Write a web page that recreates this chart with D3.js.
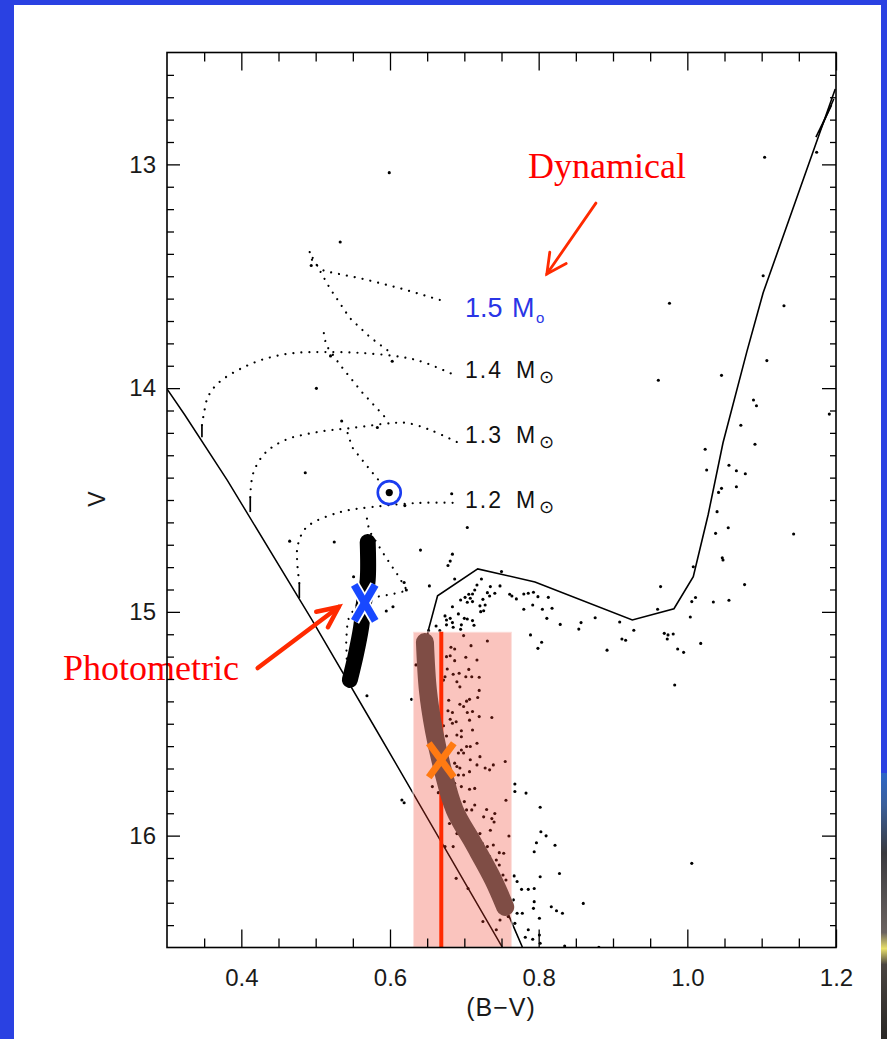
<!DOCTYPE html>
<html>
<head>
<meta charset="utf-8">
<script src="https://cdn.jsdelivr.net/npm/d3@7"></script>
<style>
  html, body { margin: 0; padding: 0; background: #2a41e2; }
  svg { display: block; }
</style>
</head>
<body>
<svg id="chart" width="887" height="1039"></svg>
<script>
// ---- Colour–magnitude diagram: (B−V) vs V ----

// Axis ticks
const xTicks = [0.4, 0.6, 0.8, 1.0, 1.2];
const yTicks = [13, 14, 15, 16];

// Cluster stars: colour (B−V) and magnitude V
const starBV = [
  0.599,0.533,0.494,0.520,0.603,0.501,0.535,0.583,0.486,0.620,0.683,0.704,0.465,0.525,0.641,0.684,0.681,0.551,0.678,0.687,
  0.653,0.604,0.595,0.569,0.629,0.616,0.619,1.104,1.174,1.102,1.130,0.976,1.107,1.046,0.961,1.089,1.093,1.191,1.072,1.091,
  1.024,1.026,1.056,1.066,1.078,1.066,1.046,1.042,1.040,1.038,1.055,1.143,1.047,1.048,1.008,1.077,0.964,0.960,1.006,1.011,
  1.035,1.056,1.004,0.909,0.928,0.912,0.917,0.969,0.974,0.973,0.981,0.987,0.995,1.018,0.892,0.983,1.006,0.750,0.619,0.622,
  0.723,0.717,0.735,0.748,0.714,0.711,0.706,0.731,0.734,0.741,0.761,0.764,0.780,0.786,0.793,0.799,0.813,0.770,0.701,0.708,
  0.711,0.695,0.684,0.704,0.725,0.728,0.721,0.726,0.722,0.780,0.792,0.805,0.818,0.674,0.681,0.676,0.692,0.700,0.704,0.711,
  0.684,0.676,0.685,0.696,0.713,0.695,0.662,0.667,0.652,0.811,0.829,0.857,0.854,0.876,0.789,0.804,0.799,0.699,0.709,0.731,
  0.682,0.687,0.676,0.681,0.702,0.717,0.687,0.635,0.677,0.706,0.693,0.685,0.702,0.710,0.720,0.674,0.672,0.690,0.694,0.720,
  0.707,0.703,0.679,0.694,0.699,0.718,0.678,0.684,0.711,0.704,0.720,0.737,0.707,0.681,0.684,0.689,0.672,0.696,0.711,0.676,
  0.696,0.690,0.703,0.708,0.717,0.696,0.692,0.699,0.708,0.721,0.717,0.687,0.690,0.694,0.728,0.734,0.739,0.755,0.707,0.692,
  0.699,0.687,0.696,0.707,0.714,0.657,0.665,0.685,0.768,0.768,0.783,0.700,0.710,0.703,0.714,0.730,0.741,0.756,0.726,0.737,
  0.740,0.735,0.680,0.690,0.721,0.760,0.685,0.674,0.724,0.731,0.739,0.729,0.747,0.753,0.734,0.743,0.747,0.689,0.705,0.752,
  0.756,0.767,0.725,0.743,0.748,0.759,0.766,0.771,0.777,0.786,0.794,0.768,0.771,0.778,0.794,0.793,0.801,0.817,0.824,0.832,
  0.860,0.828,0.802,0.794,0.797,0.803,0.810,0.822,0.802,0.786,0.782,0.792,0.801,0.802,0.835,0.881
];
const starV = [
  13.037,13.347,13.452,13.856,13.880,14.001,14.147,14.176,14.378,14.525,14.472,14.623,14.684,14.688,14.724,14.742,14.773,14.843,14.793,14.853,
  14.884,14.977,14.996,15.375,15.391,15.841,15.853,12.968,12.946,13.498,13.632,13.621,13.877,13.943,13.965,14.053,14.079,14.116,14.166,14.251,
  14.273,14.366,14.345,14.369,14.383,14.441,14.448,14.466,14.552,14.649,14.624,14.652,14.758,14.768,14.798,14.878,14.887,14.988,14.954,14.936,
  14.956,14.948,15.023,15.045,15.082,15.121,15.127,15.096,15.103,15.121,15.099,15.166,15.181,15.141,15.171,15.327,16.124,14.820,14.869,14.902,
  14.853,14.880,14.887,14.884,14.902,14.920,14.921,14.914,14.929,14.917,14.921,14.929,14.920,14.917,14.912,14.932,14.935,14.942,14.935,14.939,
  14.954,14.947,14.977,14.957,14.944,14.969,14.973,14.995,14.999,14.988,14.969,14.988,14.984,15.018,15.029,15.036,15.009,15.029,15.032,15.039,
  15.048,15.058,15.069,15.058,15.060,15.078,15.063,15.084,15.084,15.029,15.056,15.048,15.077,15.026,15.103,15.136,15.163,15.106,15.151,15.130,
  15.158,15.166,15.200,15.196,15.203,15.215,15.218,15.237,15.255,15.257,15.274,15.279,15.290,15.290,15.292,15.290,15.305,15.312,15.335,15.351,
  15.391,15.399,15.395,15.413,15.423,15.383,15.442,15.450,15.445,15.450,15.468,15.472,15.484,15.480,15.498,15.491,15.509,15.531,15.528,15.555,
  15.558,15.550,15.602,15.602,15.587,15.617,15.631,15.631,15.661,15.647,15.684,15.676,15.691,15.698,15.698,15.706,15.684,15.669,15.714,15.729,
  15.729,15.766,15.781,15.793,15.789,15.781,15.808,15.818,15.769,15.803,15.810,15.848,15.885,15.885,15.863,15.883,15.901,15.842,15.916,15.924,
  15.939,15.976,15.946,15.991,15.991,16.002,16.049,16.049,16.034,16.049,16.042,16.076,16.076,16.079,16.094,16.109,16.131,16.191,16.236,16.176,
  16.198,16.180,16.384,16.421,16.377,16.362,16.287,16.205,16.240,16.240,16.236,16.392,16.347,16.347,16.295,16.325,16.369,16.318,16.336,16.347,
  16.303,16.169,16.184,16.072,16.032,15.983,16.001,16.043,15.873,16.421,16.454,16.463,16.444,16.481,16.493,16.499
];

// The circled star
const circledStar = [0.599, 14.467];

// Zero-age main sequence
const zams = [[0.300,14.004],[0.324,14.120],[0.381,14.411],[0.495,15.036],[0.580,15.519],[0.613,15.707],[0.751,16.498]];

// Evolutionary tracks (first segment: ZAMS stub)
const track12 = [[0.478,14.938],[0.478,14.871],[0.475,14.768],[0.476,14.701],[0.488,14.621],[0.533,14.554],[0.577,14.531],[0.640,14.513],[0.691,14.513]];
const track13 = [[0.412,14.554],[0.412,14.487],[0.416,14.380],[0.432,14.290],[0.459,14.232],[0.503,14.196],[0.549,14.178],[0.603,14.156],[0.623,14.156],[0.654,14.187],[0.690,14.241]];
const track14 = [[0.347,14.219],[0.347,14.165],[0.350,14.107],[0.355,14.040],[0.369,13.977],[0.401,13.910],[0.436,13.865],[0.472,13.843],[0.513,13.839],[0.562,13.843],[0.616,13.861],[0.644,13.883],[0.690,13.946]];
const track15 = [[0.492,13.392],[0.496,13.437],[0.512,13.477],[0.559,13.508],[0.613,13.553],[0.667,13.606]];

// Hook segments of the tracks
const hook15 = [[0.496,13.418],[0.519,13.553],[0.546,13.687],[0.573,13.772],[0.600,13.839]];
const hook14 = [[0.511,13.754],[0.514,13.808],[0.533,13.897],[0.562,14.017],[0.597,14.143]];
const hook13 = [[0.543,14.201],[0.549,14.264],[0.568,14.344],[0.589,14.429]];
const hook12 = [[0.569,14.583],[0.572,14.637],[0.593,14.749],[0.611,14.838],[0.623,14.905],[0.600,14.923],[0.576,14.936],[0.554,14.972],[0.543,15.039],[0.541,15.128],[0.542,15.226]];

// Cluster isochrone
const isochrone = [[0.778,16.498],[0.764,16.390],[0.755,16.319],[0.739,16.198],[0.712,16.033],[0.687,15.885],[0.670,15.693],[0.654,15.393],
  [0.648,15.214],[0.651,15.089],[0.664,14.928],[0.718,14.808],[0.795,14.866],[0.926,15.036],[0.982,14.986],[1.008,14.843],[1.028,14.566],
  [1.048,14.244],[1.080,13.838],[1.102,13.574],[1.199,12.663]];
const tipA = [[1.173,12.878],[1.194,12.735]];
const tipB = [[1.177,12.860],[1.197,12.708]];

// Main-sequence fiducial (dynamical) and photometric band
const fiducial = [[0.647,15.135],[0.651,15.350],[0.659,15.528],[0.670,15.693],[0.687,15.885],[0.712,16.033],[0.739,16.198],[0.755,16.319]];
const photBand = [[0.570,14.688],[0.570,14.857],[0.565,14.960],[0.561,15.072],[0.554,15.192],[0.546,15.304]];

// Selection box and reference colour
const boxBV = [0.631, 0.764];
const boxV = [15.089, 16.5];
const refBV = 0.669;

// Solutions
const dynX = [0.669, 15.663];
const photX = [0.566, 14.960];

// Track labels
const massLabels = ["1.5", "1.4", "1.3", "1.2"];
const massLabelV = [13.683, 13.955, 14.246, 14.536];
const massLabelBV = 0.701;

// Annotation arrows [tail, tip]
const dynArrow = [[0.877,13.173],[0.811,13.490]];
const photArrow = [[0.422,15.251],[0.531,14.978]];

// ---- Drawing ----
const svg = d3.select("#chart");
const x = d3.scaleLinear().domain([0.3, 1.2]).range([167, 836]);
const y = d3.scaleLinear().domain([12.5, 16.5]).range([52.5, 947.5]);

// slide panel
svg.append("rect").attr("x", 0).attr("y", 0).attr("width", 887).attr("height", 1039).attr("fill", "#2a41e2");
svg.append("rect").attr("x", 14).attr("y", 5).attr("width", 867).attr("height", 1034).attr("fill", "#ffffff");
const defs = svg.append("defs");
const grad = defs.append("linearGradient").attr("id", "strip").attr("x1", 0).attr("y1", 0).attr("x2", 0).attr("y2", 1);
[["0", "#2d66c8"], ["0.12", "#3a5f9a"], ["0.3", "#3a3a3e"], ["0.6", "#6b6360"], ["0.66", "#e9e06a"], ["0.72", "#4a4440"], ["1", "#2a2826"]]
  .forEach(([o, c]) => grad.append("stop").attr("offset", o).attr("stop-color", c));
svg.append("rect").attr("x", 881).attr("y", 773).attr("width", 6).attr("height", 266).attr("fill", "url(#strip)");

defs.append("clipPath").attr("id", "plot")
  .append("rect").attr("x", 167).attr("y", 52.5).attr("width", 669).attr("height", 895);

const plot = svg.append("g").attr("clip-path", "url(#plot)");
const line = d3.line().x(d => x(d[0])).y(d => y(d[1]));
const smooth = d3.line().x(d => x(d[0])).y(d => y(d[1])).curve(d3.curveCatmullRom.alpha(0.5));

// stars
plot.append("g").selectAll("circle").data(starBV).join("circle")
  .attr("cx", d => x(d)).attr("cy", (d, i) => y(starV[i])).attr("r", 1.55).attr("fill", "#000");

// tracks: solid stub, then dotted
const dotted = p => p.attr("stroke", "#000").attr("stroke-width", 2.2)
  .attr("stroke-linecap", "round").attr("stroke-dasharray", "0.01 8").attr("fill", "none");
function drawTrack(pts) {
  plot.append("path").attr("d", line(pts.slice(0, 2))).attr("stroke", "#000").attr("stroke-width", 1.7).attr("fill", "none");
  plot.append("path").attr("d", smooth(pts.slice(1))).call(dotted);
}
[track12, track13, track14].forEach(drawTrack);
[track15, hook15, hook14, hook13, hook12].forEach(t => plot.append("path").attr("d", line(t)).call(dotted));

// ZAMS and isochrone
plot.append("path").attr("d", line(zams)).attr("stroke", "#000").attr("stroke-width", 1.5).attr("fill", "none");
[isochrone, tipA, tipB].forEach(p => plot.append("path").attr("d", line(p)).attr("stroke", "#000").attr("stroke-width", 1.6).attr("fill", "none"));

// selection box (translucent, over stars)
plot.append("rect")
  .attr("x", x(boxBV[0])).attr("y", y(boxV[0]))
  .attr("width", x(boxBV[1]) - x(boxBV[0])).attr("height", y(boxV[1]) - y(boxV[0]))
  .attr("fill", "#f03c28").attr("fill-opacity", 0.3)
  .attr("stroke", "#ffffff").attr("stroke-opacity", 0.45).attr("stroke-width", 2);

// reference colour line
plot.append("line").attr("x1", x(refBV)).attr("x2", x(refBV)).attr("y1", y(boxV[0])).attr("y2", y(boxV[1]))
  .attr("stroke", "#ff2a00").attr("stroke-width", 4);

// fiducial band
plot.append("path").attr("d", smooth(fiducial)).attr("stroke", "#7f4d45").attr("stroke-width", 18)
  .attr("stroke-linecap", "round").attr("stroke-linejoin", "round").attr("fill", "none");

// cross marker
function cross(c, hw, hh, width, color, outline) {
  const cx = x(c[0]), cy = y(c[1]);
  const g = plot.append("g");
  const segs = [[cx - hw, cy - hh, cx + hw, cy + hh], [cx + hw, cy - hh, cx - hw, cy + hh]];
  if (outline) segs.forEach(s => g.append("line").attr("x1", s[0]).attr("y1", s[1]).attr("x2", s[2]).attr("y2", s[3])
    .attr("stroke", "#ffffff").attr("stroke-width", width + 3.5));
  segs.forEach(s => g.append("line").attr("x1", s[0]).attr("y1", s[1]).attr("x2", s[2]).attr("y2", s[3])
    .attr("stroke", color).attr("stroke-width", width));
}
cross(dynX, 12.5, 17, 7, "#ff7a12", false);

// photometric band
plot.append("path").attr("d", smooth(photBand)).attr("stroke", "#000").attr("stroke-width", 16)
  .attr("stroke-linecap", "round").attr("stroke-linejoin", "round").attr("fill", "none");
cross(photX, 10.5, 18, 7.5, "#1848ff", true);

// circled star
plot.append("circle").attr("cx", x(circledStar[0])).attr("cy", y(circledStar[1])).attr("r", 3.6).attr("fill", "#000");
plot.append("circle").attr("cx", x(circledStar[0])).attr("cy", y(circledStar[1])).attr("r", 11.5)
  .attr("fill", "none").attr("stroke", "#1a3cf0").attr("stroke-width", 2.6);

// track labels
massLabels.forEach((m, i) => {
  const lx = x(massLabelBV), ly = y(massLabelV[i]);
  const t = svg.append("text").attr("y", ly).attr("font-family", "Liberation Sans, Arial, sans-serif");
  if (i === 0) {
    t.attr("fill", "#2a35e6").attr("font-size", 27);
    t.append("tspan").attr("x", lx).text(m);
    t.append("tspan").attr("x", lx + 47).text("M");
    t.append("tspan").attr("x", lx + 71).attr("dy", 6).attr("font-size", 15).text("o");
  } else {
    t.attr("fill", "#111").attr("font-size", 23);
    t.append("tspan").attr("x", lx).attr("letter-spacing", 2).text(m);
    t.append("tspan").attr("x", lx + 51).text("M");
    t.append("tspan").attr("x", lx + 74).attr("dy", 5).attr("font-size", 18)
      .attr("font-family", "DejaVu Sans, sans-serif").text("\u2299");
  }
});

// annotation texts and arrows
svg.append("text").attr("x", 528).attr("y", 178).attr("font-family", "Liberation Serif, Times New Roman, serif")
  .attr("font-size", 36).attr("fill", "#ff0000").text("Dynamical");
svg.append("text").attr("x", 63).attr("y", 680).attr("font-family", "Liberation Serif, Times New Roman, serif")
  .attr("font-size", 36).attr("fill", "#ff0000").text("Photometric");

function arrow(a, width, head, half) {
  const x0 = x(a[0][0]), y0 = y(a[0][1]), x1 = x(a[1][0]), y1 = y(a[1][1]);
  const ang = Math.atan2(y0 - y1, x0 - x1);
  const g = svg.append("g").attr("stroke", "#ff2a00").attr("stroke-width", width).attr("stroke-linecap", "round").attr("fill", "none");
  const h = half * Math.PI / 180;
  g.append("path").attr("d", `M${x0},${y0}L${x1},${y1}`);
  g.append("path").attr("d",
    `M${x1 + head * Math.cos(ang - h)},${y1 + head * Math.sin(ang - h)}L${x1},${y1}L${x1 + head * Math.cos(ang + h)},${y1 + head * Math.sin(ang + h)}`)
    .attr("stroke-linejoin", "miter");
}
arrow(dynArrow, 2.8, 22, 27);
arrow(photArrow, 4.5, 23, 25);

// axes
const minorX = d3.range(0.35, 1.2, 0.05).filter(v => !xTicks.some(t => Math.abs(t - v) < 1e-6));
const minorY = d3.range(12.6, 16.5, 0.1).filter(v => !yTicks.some(t => Math.abs(t - v) < 1e-6));
const fx = d3.format(".1f"), fy = d3.format("d");

function styleAxis(g) {
  g.select(".domain").remove();
  g.selectAll(".tick line").attr("stroke", "#000").attr("stroke-width", 1.3);
  g.selectAll("text").attr("font-family", "Liberation Sans, Arial, sans-serif").attr("font-size", 24).attr("fill", "#1a1a1a");
}
svg.append("g").attr("transform", "translate(0,947.5)")
  .call(d3.axisBottom(x).tickValues(xTicks).tickSize(-18).tickPadding(21).tickFormat(fx)).call(styleAxis);
svg.append("g").attr("transform", "translate(0,947.5)")
  .call(d3.axisBottom(x).tickValues(minorX).tickSize(-9).tickFormat("")).call(styleAxis);
svg.append("g").attr("transform", "translate(0,52.5)")
  .call(d3.axisTop(x).tickValues(xTicks).tickSize(-18).tickFormat("")).call(styleAxis);
svg.append("g").attr("transform", "translate(0,52.5)")
  .call(d3.axisTop(x).tickValues(minorX).tickSize(-9).tickFormat("")).call(styleAxis);
svg.append("g").attr("transform", "translate(167,0)")
  .call(d3.axisLeft(y).tickValues(yTicks).tickSize(-13).tickPadding(11).tickFormat(fy)).call(styleAxis);
svg.append("g").attr("transform", "translate(167,0)")
  .call(d3.axisLeft(y).tickValues(minorY).tickSize(-7).tickFormat("")).call(styleAxis);
svg.append("g").attr("transform", "translate(836,0)")
  .call(d3.axisRight(y).tickValues(yTicks).tickSize(-14).tickFormat("")).call(styleAxis);
svg.append("g").attr("transform", "translate(836,0)")
  .call(d3.axisRight(y).tickValues(minorY).tickSize(-6).tickFormat("")).call(styleAxis);

svg.append("rect").attr("x", 167).attr("y", 52.5).attr("width", 669).attr("height", 895)
  .attr("fill", "none").attr("stroke", "#000").attr("stroke-width", 1.6);

// axis titles
svg.append("text").attr("x", 501).attr("y", 1016).attr("text-anchor", "middle").attr("letter-spacing", 1)
  .attr("font-family", "Liberation Sans, Arial, sans-serif").attr("font-size", 25).attr("fill", "#1a1a1a").text("(B\u2212V)");
svg.append("text").attr("transform", "translate(97,499) rotate(-90)").attr("text-anchor", "middle")
  .attr("dominant-baseline", "central")
  .attr("font-family", "Liberation Sans, Arial, sans-serif").attr("font-size", 23).attr("fill", "#1a1a1a").text("V");
</script>
</body>
</html>
